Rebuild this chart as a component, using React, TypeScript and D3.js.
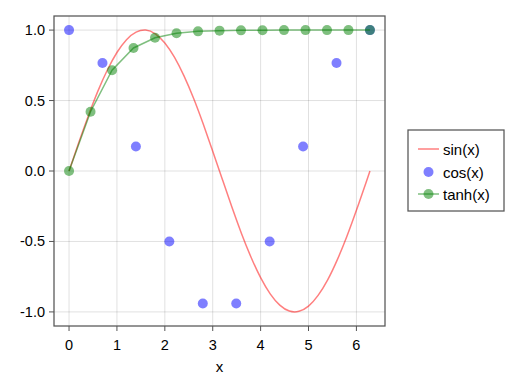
import React from 'react';
import * as d3 from 'd3';

// sin(x), sampled along the curve
const sinX = [0, 0.2, 0.4, 0.6, 0.8, 1.0, 1.2, 1.4, 1.6, 1.8, 2.0, 2.2, 2.4, 2.6, 2.8, 3.0, 3.2, 3.4, 3.6, 3.8, 4.0, 4.2, 4.4, 4.6, 4.8, 5.0, 5.2, 5.4, 5.6, 5.8, 6.0, 6.2, 6.283];
const sinY = [0, 0.199, 0.389, 0.565, 0.717, 0.841, 0.932, 0.985, 1.0, 0.974, 0.909, 0.808, 0.675, 0.516, 0.335, 0.141, -0.058, -0.256, -0.443, -0.612, -0.757, -0.872, -0.952, -0.994, -0.996, -0.959, -0.883, -0.773, -0.631, -0.465, -0.279, -0.083, 0];

// cos(x) scatter
const cosX = [0, 0.698, 1.396, 2.094, 2.793, 3.491, 4.189, 4.887, 5.585, 6.283];
const cosY = [1, 0.766, 0.174, -0.5, -0.94, -0.94, -0.5, 0.174, 0.766, 1];

// tanh(x) scatterlines
const tanhX = [0, 0.449, 0.898, 1.346, 1.795, 2.244, 2.693, 3.142, 3.59, 4.039, 4.488, 4.937, 5.386, 5.834, 6.283];
const tanhY = [0, 0.421, 0.715, 0.873, 0.946, 0.978, 0.991, 0.996, 0.998, 0.999, 1, 1, 1, 1, 1];

const xTicks = [0, 1, 2, 3, 4, 5, 6];
const yTicks = [-1.0, -0.5, 0.0, 0.5, 1.0];
const yTickLabels = ['-1.0', '-0.5', '0.0', '0.5', '1.0'];
const legendLabels = ['sin(x)', 'cos(x)', 'tanh(x)'];

const font = '"Liberation Sans", Arial, sans-serif';

const App = () => {
  const width = 520;
  const height = 390;
  const plot = { left: 54, top: 16, right: 385, bottom: 326 };

  const x = d3.scaleLinear().domain([-0.314, 6.597]).range([plot.left, plot.right]);
  const y = d3.scaleLinear().domain([-1.1, 1.1]).range([plot.bottom, plot.top]);

  const sinLine = d3.line<number>()
    .x((d, i) => x(sinX[i]))
    .y((d) => y(d))
    .curve(d3.curveNatural);

  const tanhLine = d3.line<number>()
    .x((d, i) => x(tanhX[i]))
    .y((d) => y(d));

  const spine = '#555';
  const grid = 'rgba(0,0,0,0.12)';

  // legend
  const lg = { x: 408, y: 130, w: 96, h: 81 };
  const rowY = [149, 172, 194];

  return (
    <svg width={width} height={height} style={{ position: 'absolute', left: 0, top: 0, background: '#fff' }}>
      {/* grid */}
      {xTicks.map((t) => (
        <line key={'gx' + t} x1={x(t)} x2={x(t)} y1={plot.top} y2={plot.bottom} stroke={grid} strokeWidth={1} />
      ))}
      {yTicks.map((t) => (
        <line key={'gy' + t} x1={plot.left} x2={plot.right} y1={y(t)} y2={y(t)} stroke={grid} strokeWidth={1} />
      ))}

      <defs>
        <clipPath id="plotclip">
          <rect x={plot.left} y={plot.top} width={plot.right - plot.left} height={plot.bottom - plot.top} />
        </clipPath>
      </defs>

      <g clipPath="url(#plotclip)">
        <path d={sinLine(sinY) || ''} fill="none" stroke="rgb(255,0,0)" strokeOpacity={0.5} strokeWidth={1.5} />
        {cosY.map((v, i) => (
          <circle key={'c' + i} cx={x(cosX[i])} cy={y(v)} r={5} fill="rgb(0,0,255)" fillOpacity={0.5} />
        ))}
        <path d={tanhLine(tanhY) || ''} fill="none" stroke="rgb(0,128,0)" strokeOpacity={0.5} strokeWidth={1.5} />
        {tanhY.map((v, i) => (
          <circle key={'t' + i} cx={x(tanhX[i])} cy={y(v)} r={5} fill="rgb(0,128,0)" fillOpacity={0.5} />
        ))}
      </g>

      {/* spines */}
      <rect x={plot.left} y={plot.top} width={plot.right - plot.left} height={plot.bottom - plot.top} fill="none" stroke={spine} strokeWidth={1.25} />

      {/* ticks + labels */}
      {xTicks.map((t) => (
        <g key={'xt' + t}>
          <line x1={x(t)} x2={x(t)} y1={plot.bottom} y2={plot.bottom + 5} stroke={spine} strokeWidth={1} />
          <text x={x(t)} y={plot.bottom + 24} textAnchor="middle" fontFamily={font} fontSize={14.5} fill="#000">{t}</text>
        </g>
      ))}
      {yTicks.map((t, i) => (
        <g key={'yt' + t}>
          <line x1={plot.left - 5} x2={plot.left} y1={y(t)} y2={y(t)} stroke={spine} strokeWidth={1} />
          <text x={plot.left - 9} y={y(t) + 5} textAnchor="end" fontFamily={font} fontSize={14.5} fill="#000">{yTickLabels[i]}</text>
        </g>
      ))}
      <text x={(plot.left + plot.right) / 2} y={372} textAnchor="middle" fontFamily={font} fontSize={15} fill="#000">x</text>

      {/* legend */}
      <rect x={lg.x} y={lg.y} width={lg.w} height={lg.h} fill="#fff" stroke={spine} strokeWidth={1.25} />
      <line x1={418} x2={439} y1={rowY[0]} y2={rowY[0]} stroke="rgb(255,0,0)" strokeOpacity={0.5} strokeWidth={1.5} />
      <circle cx={428.5} cy={rowY[1]} r={5} fill="rgb(0,0,255)" fillOpacity={0.5} />
      <line x1={418} x2={439} y1={rowY[2]} y2={rowY[2]} stroke="rgb(0,128,0)" strokeOpacity={0.5} strokeWidth={1.5} />
      <circle cx={428.5} cy={rowY[2]} r={5} fill="rgb(0,128,0)" fillOpacity={0.5} />
      {legendLabels.map((l, i) => (
        <text key={l} x={443} y={rowY[i] + 5.5} fontFamily={font} fontSize={15} fill="#000">{l}</text>
      ))}
    </svg>
  );
};

export default App;
